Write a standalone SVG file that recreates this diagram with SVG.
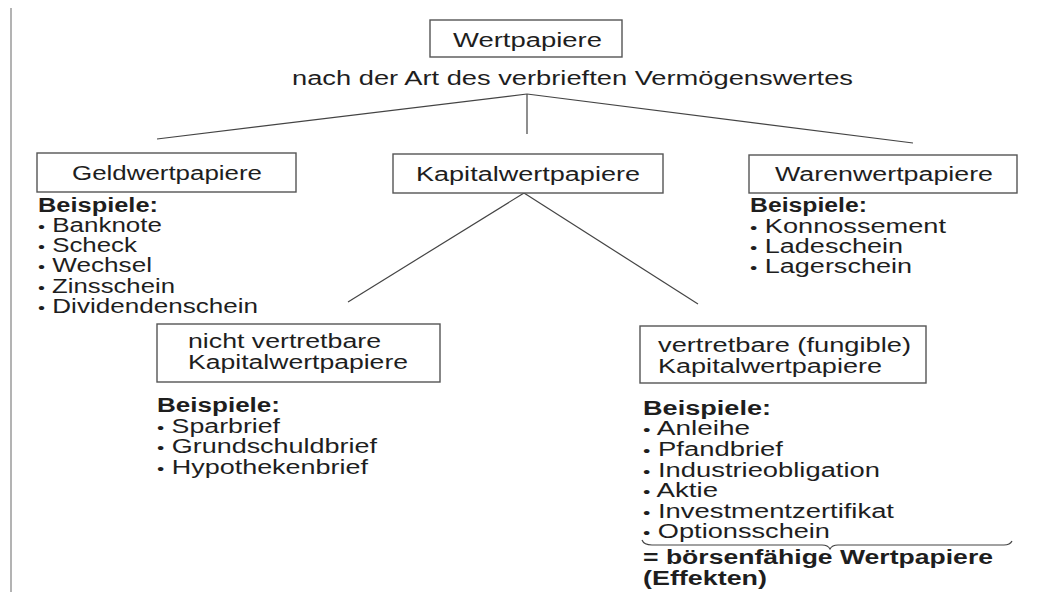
<svg xmlns="http://www.w3.org/2000/svg" width="1043" height="601" viewBox="0 0 1043 601">
<style>
  text { font-family: "Liberation Sans", Arial, sans-serif; font-size: 19.5px; fill: #1e1e1e; }
  .b { font-weight: bold; }
  .bu { font-size: 15px; }
  .box { fill: #ffffff; stroke: #555555; stroke-width: 1.4; }
  .ln { stroke: #444444; stroke-width: 1.2; fill: none; }
</style>
<rect x="0" y="0" width="1043" height="601" fill="#ffffff"/>
<line x1="11" y1="8" x2="11" y2="592" stroke="#9a9a9a" stroke-width="1.5"/>

<g id="connectors">
  <line class="ln" x1="527" y1="94" x2="157" y2="139"/>
  <line class="ln" x1="527" y1="94" x2="913" y2="143"/>
  <line class="ln" x1="527" y1="94" x2="527" y2="134"/>
  <line class="ln" x1="524" y1="193" x2="348" y2="302"/>
  <line class="ln" x1="524" y1="193" x2="698" y2="304"/>
</g>

<g id="wertpapiere">
  <rect class="box" x="430" y="20" width="192" height="37"/>
  <text x="453" y="47" textLength="149" lengthAdjust="spacingAndGlyphs">Wertpapiere</text>
</g>

<g id="kriterium">
  <text x="292" y="85" textLength="561" lengthAdjust="spacingAndGlyphs">nach der Art des verbrieften Vermögenswertes</text>
</g>

<g id="geldwertpapiere">
  <rect class="box" x="37" y="153" width="259" height="39"/>
  <text x="72" y="180" textLength="190" lengthAdjust="spacingAndGlyphs">Geldwertpapiere</text>
  <text class="b" x="38" y="212" textLength="120" lengthAdjust="spacingAndGlyphs">Beispiele:</text>
  <text x="38" y="232" textLength="124" lengthAdjust="spacingAndGlyphs"><tspan class="bu">•</tspan> Banknote</text>
  <text x="38" y="252" textLength="99" lengthAdjust="spacingAndGlyphs"><tspan class="bu">•</tspan> Scheck</text>
  <text x="38" y="272" textLength="114" lengthAdjust="spacingAndGlyphs"><tspan class="bu">•</tspan> Wechsel</text>
  <text x="38" y="293" textLength="137" lengthAdjust="spacingAndGlyphs"><tspan class="bu">•</tspan> Zinsschein</text>
  <text x="38" y="313" textLength="220" lengthAdjust="spacingAndGlyphs"><tspan class="bu">•</tspan> Dividendenschein</text>
</g>

<g id="kapitalwertpapiere">
  <rect class="box" x="393" y="154" width="270" height="39"/>
  <text x="416" y="181" textLength="224" lengthAdjust="spacingAndGlyphs">Kapitalwertpapiere</text>
</g>

<g id="warenwertpapiere">
  <rect class="box" x="749" y="155" width="268" height="38"/>
  <text x="775" y="181" textLength="218" lengthAdjust="spacingAndGlyphs">Warenwertpapiere</text>
  <text class="b" x="750" y="212" textLength="117" lengthAdjust="spacingAndGlyphs">Beispiele:</text>
  <text x="750" y="233" textLength="196" lengthAdjust="spacingAndGlyphs"><tspan class="bu">•</tspan> Konnossement</text>
  <text x="750" y="253" textLength="153" lengthAdjust="spacingAndGlyphs"><tspan class="bu">•</tspan> Ladeschein</text>
  <text x="750" y="273" textLength="162" lengthAdjust="spacingAndGlyphs"><tspan class="bu">•</tspan> Lagerschein</text>
</g>

<g id="nicht-vertretbare">
  <rect class="box" x="157" y="324" width="283" height="58"/>
  <text x="188" y="348" textLength="193" lengthAdjust="spacingAndGlyphs">nicht vertretbare</text>
  <text x="188" y="369" textLength="220" lengthAdjust="spacingAndGlyphs">Kapitalwertpapiere</text>
  <text class="b" x="157" y="412" textLength="123" lengthAdjust="spacingAndGlyphs">Beispiele:</text>
  <text x="157" y="433" textLength="123" lengthAdjust="spacingAndGlyphs"><tspan class="bu">•</tspan> Sparbrief</text>
  <text x="157" y="453" textLength="220" lengthAdjust="spacingAndGlyphs"><tspan class="bu">•</tspan> Grundschuldbrief</text>
  <text x="157" y="474" textLength="211" lengthAdjust="spacingAndGlyphs"><tspan class="bu">•</tspan> Hypothekenbrief</text>
</g>

<g id="vertretbare">
  <rect class="box" x="640" y="326" width="286" height="57"/>
  <text x="658" y="352" textLength="253" lengthAdjust="spacingAndGlyphs">vertretbare (fungible)</text>
  <text x="658" y="373" textLength="224" lengthAdjust="spacingAndGlyphs">Kapitalwertpapiere</text>
  <text class="b" x="643" y="415" textLength="128" lengthAdjust="spacingAndGlyphs">Beispiele:</text>
  <text x="643" y="435" textLength="107" lengthAdjust="spacingAndGlyphs"><tspan class="bu">•</tspan> Anleihe</text>
  <text x="643" y="456" textLength="140" lengthAdjust="spacingAndGlyphs"><tspan class="bu">•</tspan> Pfandbrief</text>
  <text x="643" y="477" textLength="237" lengthAdjust="spacingAndGlyphs"><tspan class="bu">•</tspan> Industrieobligation</text>
  <text x="643" y="497" textLength="75" lengthAdjust="spacingAndGlyphs"><tspan class="bu">•</tspan> Aktie</text>
  <text x="643" y="518" textLength="251" lengthAdjust="spacingAndGlyphs"><tspan class="bu">•</tspan> Investmentzertifikat</text>
  <text x="643" y="538" textLength="187" lengthAdjust="spacingAndGlyphs"><tspan class="bu">•</tspan> Optionsschein</text>
  <path class="ln" stroke-width="1" d="M642,540 Q644,545 652,545 L822,545 Q828,545 830,549 Q832,545 838,545 L1004,545 Q1010,545 1012,541"/>
  <text class="b" x="643" y="564" textLength="350" lengthAdjust="spacingAndGlyphs">= börsenfähige Wertpapiere</text>
  <text class="b" x="643" y="585" textLength="124" lengthAdjust="spacingAndGlyphs">(Effekten)</text>
</g>
</svg>
